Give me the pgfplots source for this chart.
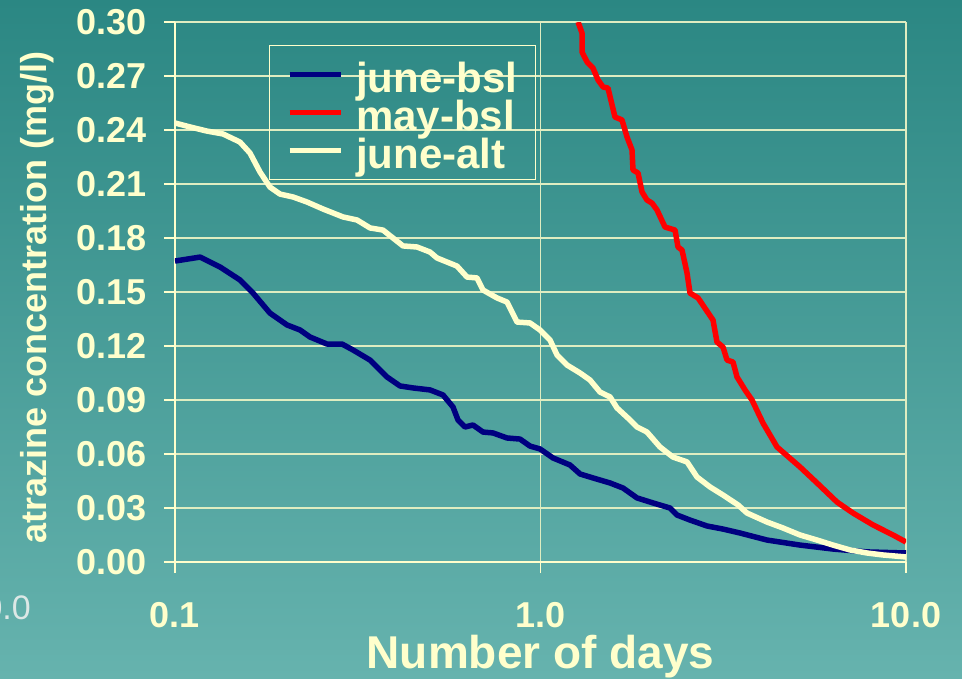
\documentclass[border=0pt]{standalone}
\usepackage{pgfplots}
\pgfplotsset{compat=1.18}
\usepackage{fontspec}
\setmainfont{Liberation Sans}
\definecolor{cream}{HTML}{FFFFCC}
\definecolor{bgtop}{HTML}{2B8783}
\definecolor{bgbot}{HTML}{66B3AE}
\definecolor{navyc}{HTML}{000080}
\definecolor{ghost}{HTML}{DCE8E6}

\pgfplotstableread{
x y
0.1000 0.1672
0.1171 0.1694
0.1328 0.1639
0.1506 0.1567
0.1635 0.1494
0.1819 0.1383
0.2025 0.1317
0.2198 0.1289
0.2341 0.1250
0.2605 0.1211
0.2864 0.1211
0.3069 0.1178
0.3416 0.1122
0.3802 0.1028
0.4127 0.0978
0.4479 0.0967
0.4986 0.0956
0.5411 0.0928
0.5763 0.0861
0.5947 0.0789
0.6215 0.0750
0.6537 0.0761
0.6962 0.0722
0.7415 0.0717
0.8098 0.0689
0.8789 0.0683
0.9361 0.0644
0.9969 0.0628
1.082 0.0578
1.204 0.0539
1.283 0.0489
1.392 0.0467
1.550 0.0439
1.682 0.0411
1.837 0.0356
2.032 0.0328
2.261 0.0300
2.363 0.0261
2.565 0.0233
2.855 0.0200
3.158 0.0183
3.515 0.0161
4.166 0.0122
5.129 0.0094
6.315 0.0072
7.823 0.0056
10.00 0.0050
}\junebsl

\pgfplotstableread{
x y
1.267 0.3000
1.299 0.2939
1.299 0.2833
1.341 0.2778
1.392 0.2744
1.437 0.2678
1.483 0.2639
1.530 0.2633
1.599 0.2472
1.671 0.2456
1.725 0.2361
1.780 0.2289
1.791 0.2178
1.849 0.2161
1.896 0.2056
1.956 0.2011
2.019 0.1994
2.083 0.1956
2.191 0.1861
2.334 0.1844
2.378 0.1750
2.439 0.1733
2.517 0.1606
2.565 0.1494
2.698 0.1467
2.965 0.1344
3.040 0.1222
3.158 0.1194
3.238 0.1122
3.363 0.1111
3.449 0.1028
3.627 0.0956
3.790 0.0900
4.062 0.0772
4.437 0.0639
5.129 0.0528
5.710 0.0439
6.476 0.0333
7.162 0.0272
8.124 0.0206
9.216 0.0150
10.00 0.0111
}\maybsl

\pgfplotstableread{
x y
0.1000 0.2439
0.1099 0.2417
0.1223 0.2394
0.1353 0.2378
0.1506 0.2333
0.1604 0.2272
0.1708 0.2167
0.1819 0.2083
0.1938 0.2044
0.2103 0.2028
0.2297 0.2000
0.2541 0.1961
0.2882 0.1917
0.3148 0.1900
0.3416 0.1856
0.3708 0.1844
0.4205 0.1756
0.4593 0.1750
0.4986 0.1722
0.5210 0.1689
0.5910 0.1644
0.6294 0.1583
0.6704 0.1578
0.6962 0.1511
0.7604 0.1467
0.8098 0.1444
0.8625 0.1333
0.9361 0.1328
0.9969 0.1289
1.062 0.1233
1.110 0.1150
1.182 0.1094
1.283 0.1050
1.366 0.1011
1.455 0.0944
1.550 0.0917
1.619 0.0856
1.758 0.0789
1.837 0.0750
1.956 0.0722
2.123 0.0639
2.304 0.0583
2.517 0.0556
2.681 0.0472
2.909 0.0417
3.158 0.0372
3.471 0.0317
3.673 0.0272
4.166 0.0222
4.607 0.0189
5.129 0.0150
5.710 0.0122
6.315 0.0094
7.028 0.0067
7.823 0.0050
8.652 0.0039
10.00 0.0028
}\junealt

\begin{document}
\begin{tikzpicture}[x=1pt,y=1pt]
\useasboundingbox (0,0) rectangle (962,678);
\clip (0,0) rectangle (962,678);
\fill[top color=bgtop, bottom color=bgbot] (0,0) rectangle (962,678);
\node[anchor=base east, inner sep=0pt, text=ghost, font=\fontsize{34}{34}\selectfont] at (31,58) {10.0};
\begin{axis}[
  at={(175pt,116pt)}, anchor=south west,
  scale only axis, width=731pt, height=540pt,
  xmode=log, xmin=0.1, xmax=10,
  ymin=0, ymax=0.30,
  axis lines*=left,
  axis line style={cream, line width=1.3pt},
  xtick={0.1,1,10}, xticklabels={0.1,1.0,10.0},
  ytick={0,0.03,0.06,0.09,0.12,0.15,0.18,0.21,0.24,0.27,0.30},
  yticklabels={0.00,0.03,0.06,0.09,0.12,0.15,0.18,0.21,0.24,0.27,0.30},
  xminorticks=false, yminorticks=false,
  tick align=outside, major tick length=11pt,
  tick style={cream, line width=1.3pt},
  xmajorgrids, ymajorgrids,
  major grid style={cream!85!bgtop, line width=1.5pt},
  /pgf/number format/assume math mode=true,
  ticklabel style={text=cream, font=\fontsize{36}{36}\selectfont\bfseries},
  yticklabel style={xshift=-14pt},
  xticklabel style={anchor=base, yshift=-54pt},
  xlabel={Number of days},
  xlabel style={at={(axis description cs:0.5,-0.1963)}, anchor=base, text=cream, font=\fontsize{46}{46}\selectfont\bfseries},
  ylabel={atrazine concentration (mg/l)},
  ylabel style={at={(axis description cs:-0.1751,0.4898)}, anchor=base, text=cream, font=\fontsize{36}{36}\selectfont\bfseries},
  legend style={at={(rel axis cs:0.128,0.957)}, anchor=north west, draw=cream, line width=1pt, fill=none,
    font=\fontsize{42}{42}\selectfont\bfseries, text=cream, inner xsep=18pt, inner ysep=10pt,
    row sep=0pt, column sep=13pt,
    nodes={inner sep=0pt, text height=37pt, text depth=1pt}},
  legend cell align=left,
  legend image code/.code={\draw[#1, line width=5pt] (0pt,0pt) -- (51pt,0pt);},
  clip=true,
]
\addplot[navyc, line width=5.5pt, line join=round] table {\junebsl};
\addlegendentry{june-bsl}
\addplot[red, line width=5.5pt, line join=round] table {\maybsl};
\addlegendentry{may-bsl}
\addplot[cream, line width=5.5pt, line join=round] table {\junealt};
\addlegendentry{june-alt}
\end{axis}
\end{tikzpicture}
\end{document}
